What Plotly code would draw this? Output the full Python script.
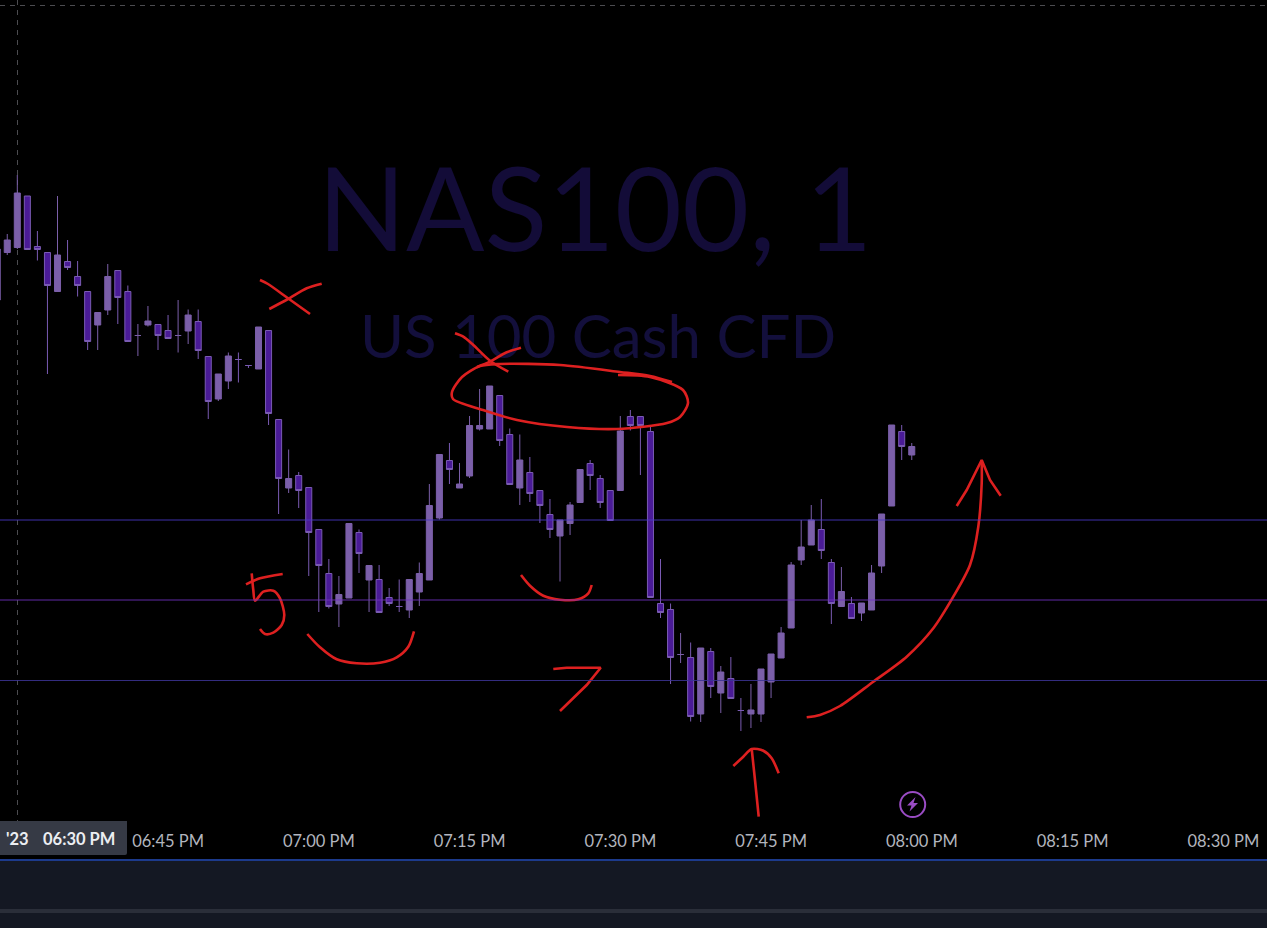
import pandas as pd
import plotly.graph_objects as go

# --- chart values (y is an unlabelled price scale) ---
START = "2023-06-15 18:28"
OPEN = [628,675.5,680.5,732,681.5,675.5,636.5,666.5,651.5,636.5,603,618,657.5,636.5,592.5,603,603.5,597.5,592.5,597,606.5,571.5,529,547,568.5,562.5,559,597.5,
508.5,440,452.5,440.5,398.5,354.5,324,330,395.5,348,348.5,330.5,321.5,318,336,348,410,467.5,440,452,499,499,532.5,493.5,440,455.5,437.5,413.5,392,404.5,425.5,464.5,449.5,437.5,437.5,511.5,511.5,496.5,
324.5,318.5,273.5,270.5,214,276.5,235,249.5,217.5,214,214,246,270,300,368,383,398.5,365.5,321.5,324.5,315,318,362,422,496.5,473]
HIGH = [679,694,753,732,697,675.5,732,688,667,636.5,615.5,664,657.5,642.5,604,622,603.5,613,628,618.5,618.5,571.5,554,575.5,575.5,562.5,601,597.5,
508.5,478.5,456,440.5,398.5,369,352,404.5,398.5,362.5,363,340,348.5,348.5,365.5,444,473.5,485,465,512,539,542,532.5,499.5,493.5,471,437.5,429,408,426,458.5,468,453,437.5,512,518,511.5,501.5,
369,324.5,295,285.5,280,280,262,271,230,244,259,274,301,366,408,423,429,369,361,331,325,363,414,503,503,485]
LOW = [628,673,679,678.5,667.5,554,636.5,658,631.5,578,578,613,604,586.5,572,601.5,578,589.5,575.5,584,569,509,527,539,545.5,560,559,503,
414,435,420,352,316,319.5,301,330,355,316,315.5,322,316,310,322,348,408.5,444,440,450,497.5,499,482,443.5,423,426,405,390,346.5,393,425.5,438,420,407.5,437.5,497.5,453,330.5,
310,244,265,206.5,206,230,215,229.5,197,200,206,230,270,300,363,383,369,304,321.5,309.5,307,318,355,422,468,468]
CLOSE = [679,688,735,678.5,678.5,642.5,673,660.5,642.5,586.5,615.5,651.5,630.5,586.5,592.5,607,592.5,589.5,592.5,613,577.5,526.5,554,572,568.5,562.5,601,514.5,
449.5,449.5,437.5,395.5,362.5,321.5,333.5,404.5,374.5,362.5,315.5,324.5,321.5,348.5,354.5,422.5,473.5,458.5,444,502.5,502.5,542,487.5,443.5,468,434.5,422.5,398.5,408,423,458.5,452.5,425.5,407.5,497,502.5,502.5,330.5,
315.5,270.5,273.5,211.5,280,241.5,256,229.5,217.5,218,259,274,295,363,381,408,377.5,324.5,336.5,309.5,325,355,414,503,481.5,481.5]
LEVELS = [408, 328, 247.5]
LEVEL_COLORS = ["#4a3ac8", "#7232c4", "#3c3496"]
TICK_TIMES = ["18:45", "19:00", "19:15", "19:30", "19:45", "20:00", "20:15", "20:30"]
TICK_LABELS = ["06:45 PM", "07:00 PM", "07:15 PM", "07:30 PM", "07:45 PM", "08:00 PM", "08:15 PM", "08:30 PM"]
TITLE = "NAS100, 1"
SUBTITLE = "US 100 Cash CFD"

# --- hand-drawn red ink, in page pixels (not chart data) ---
INK = [
    ([260,268,288,310], [280,284,298.3,314]),
    ([269.3,288,306.7,321.7], [309,299,288.3,283.7]),
    ([455,463.3,473.3,490,508.3], [333.3,336.7,345,360.7,371.7]),
    ([477,490,506.7,521], [367,361.7,352.3,347.7]),
    ([672,650,620,560,500,480,462,452,453,483,517,567,617,667,680,688,683,650,618],
     [382,376,372,365,364,366,377,392,399,410,420,427,429,423,417,403,390,377,375]),
    ([246,260,282.7], [584.3,578.3,574]),
    ([251.7,253.3,255,263.3,273.3,280,284.3,281.7,273.3,265,260],
     [573.3,590,600.7,591.7,590.7,598.3,615,625,632.7,634,629]),
    ([307.3,320,336.7,356.7,380,396.7,408.3,414], [634,647.3,659.3,663.3,662.7,657.3,646.7,631.3]),
    ([521,530,543.3,560,578.3,588.3,591.7], [575,585.7,595.7,599.7,599.3,593.3,585]),
    ([751.7,755,758.7], [749,780,816.7]),
    ([733.3,743.3,751.7,763.3,771.7,778.7], [766,756.7,749,750.7,758.3,773.3]),
    ([806.7,820,840,873.3,906.7,933.3,953.3,970,978.3,981.7,981.7], [717.3,715,706,681.7,656.7,628.3,596.7,565,526.7,483.3,460]),
]
INK_SHARP = [
    ([553.3,566.7,600.7,586.7,560], [669,667.7,667.7,685,711]),
    ([956.7,966.7,981.7,990,1000.7], [506,490,460,480,495.7]),
]

W, H, PLOT_H = 1267, 928, 821
PX_PER_MIN, X0 = 10.05, 17.3
times = pd.date_range(START, periods=len(OPEN), freq="min")
T0 = pd.Timestamp("2023-06-15 18:30")

def t_at(px):
    return (T0 + pd.Timedelta(minutes=(px - X0) / PX_PER_MIN)).strftime("%Y-%m-%d %H:%M:%S.%f")

def py(p):
    return (PLOT_H - p) / PLOT_H

LIGHT = "#7b5fa9"
DARK = "#4a1b97"
EDGE = "#7a5bb3"
RED = "#dd2020"
FONT = "Lato"

fig = go.Figure()
fig.add_trace(go.Scatter(x=[t_at(595)], y=[928 - 222], mode="text", text=[TITLE], hoverinfo="skip",
                         textfont=dict(family=FONT, size=116, color="#130c38"), cliponaxis=False))
fig.add_trace(go.Scatter(x=[t_at(598)], y=[928 - 343], mode="text", text=[SUBTITLE], hoverinfo="skip",
                         textfont=dict(family=FONT, size=60, color="#130f3c"), cliponaxis=False))
fig.add_trace(go.Candlestick(
    x=times, open=OPEN, high=HIGH, low=LOW, close=CLOSE, whiskerwidth=0,
    increasing=dict(fillcolor=LIGHT, line=dict(color=LIGHT, width=1)),
    decreasing=dict(fillcolor=DARK, line=dict(color=EDGE, width=1)),
))
for xs, ys in INK:
    fig.add_trace(go.Scatter(x=xs, y=ys, xaxis="x2", yaxis="y2", mode="lines", hoverinfo="skip",
                             line=dict(color=RED, width=2.6, shape="spline", smoothing=0.8)))
for xs, ys in INK_SHARP:
    fig.add_trace(go.Scatter(x=xs, y=ys, xaxis="x2", yaxis="y2", mode="lines", hoverinfo="skip",
                             line=dict(color=RED, width=2.6)))

shapes = []
for lv, col in zip(LEVELS, LEVEL_COLORS):
    shapes.append(dict(type="line", xref="paper", x0=0, x1=1, yref="y", y0=lv, y1=lv,
                       line=dict(color=col, width=1), opacity=0.85, layer="above"))
cross = dict(color="#4c4c50", width=1, dash="5px,5px")
shapes.append(dict(type="line", xref="paper", x0=0, x1=1, yref="paper", y0=py(5.5), y1=py(5.5), line=cross, layer="below"))
shapes.append(dict(type="line", xref="x2", x0=17.5, x1=17.5, yref="paper", y0=py(0), y1=py(821), line=cross, layer="below"))
# time-axis crosshair label
shapes.append(dict(type="path", xref="x2", yref="paper",
                   path=f"M 0 {py(821)} L 127 {py(821)} L 127 {py(853)} Q 127 {py(855)} 125 {py(855)} L 0 {py(855)} Z",
                   fillcolor="#363a45", line=dict(width=0), layer="above"))
# bottom panel
shapes.append(dict(type="rect", xref="paper", yref="paper", x0=0, x1=1, y0=py(861), y1=py(H),
                   fillcolor="#141823", line=dict(width=0), layer="above"))
shapes.append(dict(type="rect", xref="paper", yref="paper", x0=0, x1=1, y0=py(859), y1=py(861),
                   fillcolor="#1c3a8c", line=dict(width=0), layer="above"))
shapes.append(dict(type="rect", xref="paper", yref="paper", x0=0, x1=1, y0=py(909), y1=py(913),
                   fillcolor="#2a2e39", line=dict(width=0), layer="above"))
# lightning badge
shapes.append(dict(type="circle", xref="x2", yref="y2", x0=900.2, x1=925.2, y0=792, y1=817,
                   line=dict(color="#9a4cc4", width=2), fillcolor="rgba(0,0,0,0)", layer="above"))
shapes.append(dict(type="path", xref="x2", yref="y2",
                   path="M 915.5 797 L 907 805.5 L 911.5 805.5 L 909.5 811.5 L 918 803 L 913.5 803 Z",
                   fillcolor="#9a4cc4", line=dict(width=0), layer="above"))

annotations = [
    dict(xref="x2", yref="paper", x=17, y=py(839.5), text="'23", showarrow=False,
         font=dict(family=FONT, size=16.5, color="#eceef2", weight=700), xanchor="center", yanchor="middle"),
    dict(xref="x2", yref="paper", x=79, y=py(839.5), text="06:30 PM", showarrow=False,
         font=dict(family=FONT, size=16.5, color="#eceef2", weight=700), xanchor="center", yanchor="middle"),
]

fig.update_layout(
    width=W, height=H, autosize=False, showlegend=False,
    margin=dict(l=0, r=0, t=0, b=H - PLOT_H, pad=0),
    paper_bgcolor="#000000", plot_bgcolor="#000000",
    boxgap=0.4, boxgroupgap=0,
    shapes=shapes, annotations=annotations,
    xaxis=dict(type="date", range=[t_at(0), t_at(W)], rangeslider=dict(visible=False),
               tickmode="array", tickvals=[f"2023-06-15 {t}" for t in TICK_TIMES], ticktext=TICK_LABELS,
               showgrid=False, zeroline=False, showline=False, ticks="", ticklabelstandoff=8,
               tickfont=dict(family=FONT, size=16.5, color="#b2b5be")),
    yaxis=dict(range=[H - PLOT_H, H], visible=False, showgrid=False, zeroline=False),
    xaxis2=dict(range=[0, W], overlaying="x", visible=False, anchor="y2"),
    yaxis2=dict(range=[PLOT_H, 0], overlaying="y", visible=False, anchor="x2"),
)
fig.write_html("out.html", config=dict(displayModeBar=False),
               post_script="document.body.style.margin='0';document.body.style.background='#000';document.documentElement.style.overflow='hidden';")
